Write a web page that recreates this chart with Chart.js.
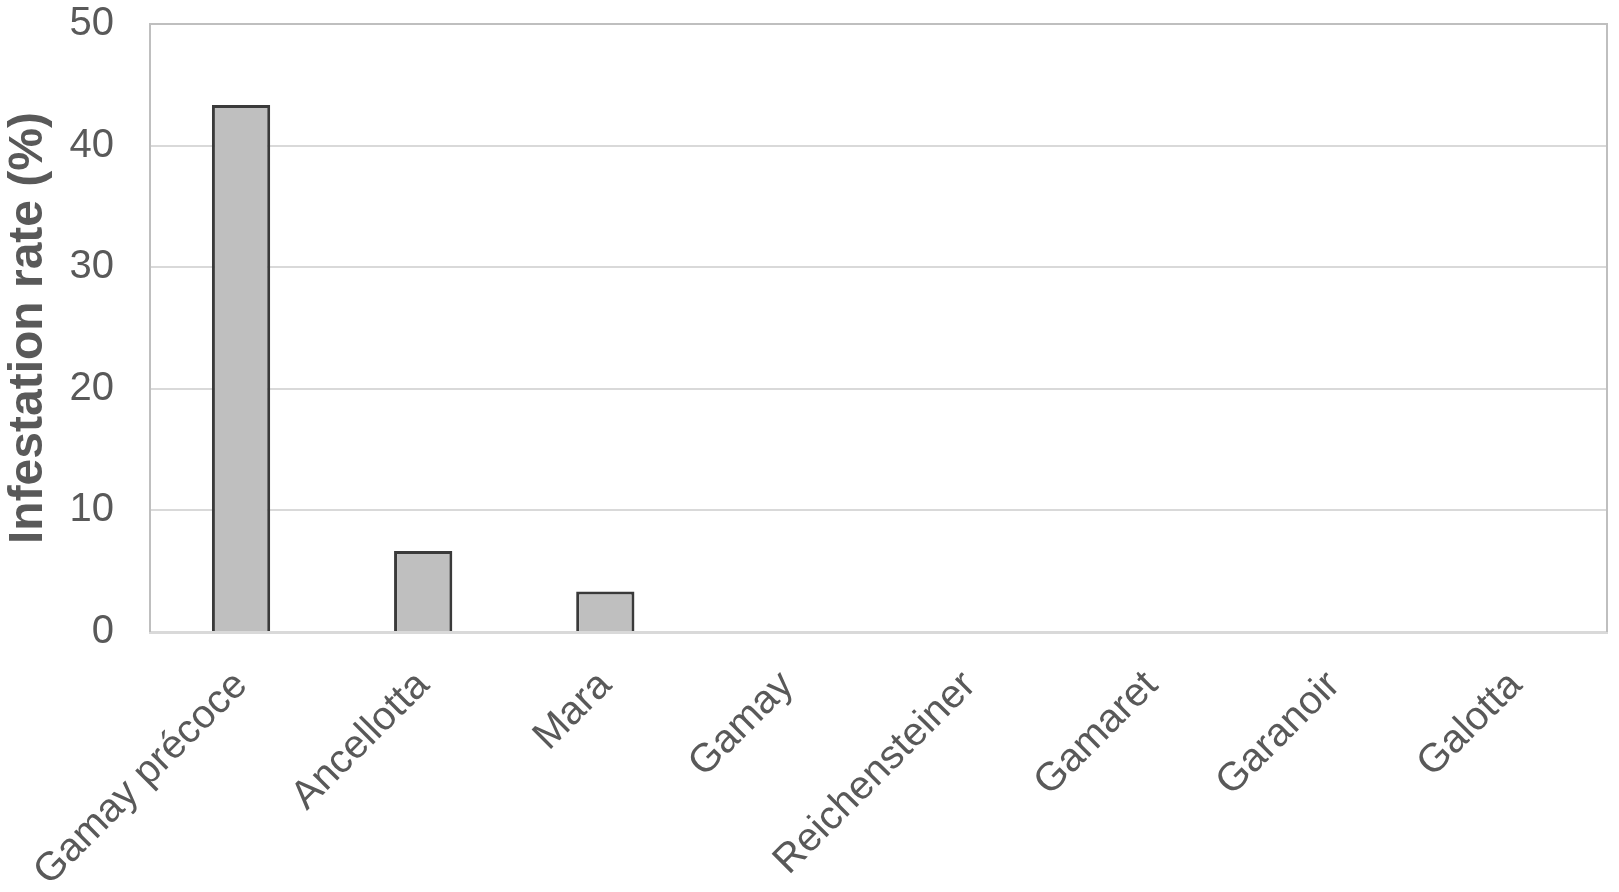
<!DOCTYPE html>
<html>
<head>
<meta charset="utf-8">
<script src="https://cdn.jsdelivr.net/npm/chart.js@4.4.0/dist/chart.umd.min.js"></script>
<style>
  html, body { margin: 0; padding: 0; background: #ffffff; }
  #wrap { width: 1619px; height: 892px; position: relative; }
</style>
</head>
<body>
<div id="wrap"><canvas id="c" width="1619" height="892"></canvas></div>
<script>
const categories = ["Gamay précoce", "Ancellotta", "Mara", "Gamay", "Reichensteiner", "Gamaret", "Garanoir", "Galotta"];
const infestationRate = [43.33, 6.67, 3.33, 0, 0, 0, 0, 0];
const yTicks = [0, 10, 20, 30, 40, 50];
const yTitle = "Infestation rate (%)";

const framePlugin = {
  id: 'frame',
  beforeDatasetsDraw(chart) {
    const { ctx, chartArea: a } = chart;
    ctx.save();
    ctx.strokeStyle = '#bfbfbf';
    ctx.lineWidth = 2;
    ctx.beginPath();
    ctx.moveTo(a.left, a.bottom);
    ctx.lineTo(a.left, a.top);
    ctx.lineTo(a.right, a.top);
    ctx.lineTo(a.right, a.bottom);
    ctx.stroke();
    ctx.restore();
  }
};

new Chart(document.getElementById('c'), {
  type: 'bar',
  data: {
    labels: categories,
    datasets: [{
      data: infestationRate,
      backgroundColor: '#bfbfbf',
      borderColor: '#3a3a3a',
      borderWidth: 3,
      barPercentage: 0.32,
      categoryPercentage: 1
    }]
  },
  options: {
    responsive: false,
    animation: false,
    devicePixelRatio: 1,
    layout: { padding: { top: 24, right: 12, left: 0, bottom: 0 } },
    plugins: { legend: { display: false }, tooltip: { enabled: false } },
    scales: {
      x: {
        afterFit(scale) { scale.height = 260; scale.paddingLeft = 0; scale.paddingRight = 0; scale.paddingTop = 0; scale.paddingBottom = 0; },
        grid: { display: false, drawTicks: false },
        border: { display: true, color: '#d9d9d9', width: 3 },
        ticks: {
          autoSkip: false,
          minRotation: 45,
          maxRotation: 45,
          padding: 30,
          color: '#595959',
          font: { family: 'Liberation Sans, Arial, sans-serif', size: 40 }
        }
      },
      y: {
        min: 0,
        max: 50,
        afterFit(scale) { scale.width = 150; scale.paddingTop = 0; scale.paddingBottom = 0; scale.paddingLeft = 0; scale.paddingRight = 0; },
        afterBuildTicks(scale) { scale.ticks = yTicks.map(v => ({ value: v })); },
        grid: { color: '#d9d9d9', lineWidth: 2, drawTicks: false },
        border: { display: false },
        ticks: {
          padding: 36,
          color: '#595959',
          font: { family: 'Liberation Sans, Arial, sans-serif', size: 40 }
        },
        title: {
          display: true,
          text: yTitle,
          color: '#595959',
          padding: 0,
          font: { family: 'Liberation Sans, Arial, sans-serif', size: 48, weight: 'bold' }
        }
      }
    }
  },
  plugins: [framePlugin]
});
</script>
</body>
</html>
